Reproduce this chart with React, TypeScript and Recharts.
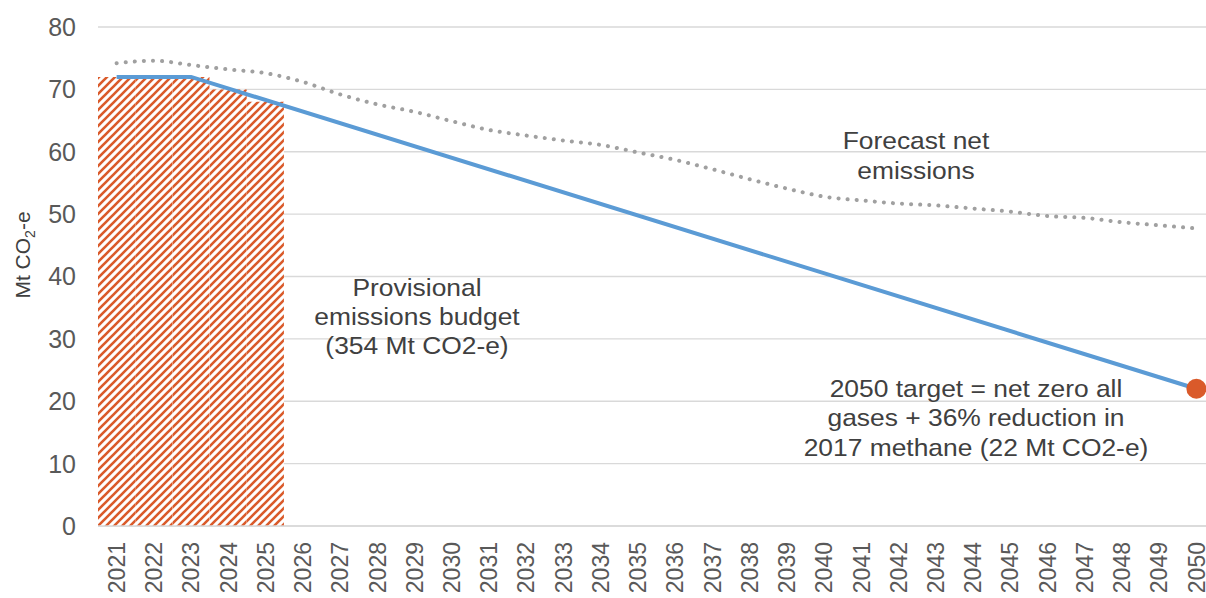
import { Bar, ComposedChart, Line, XAxis, YAxis, CartesianGrid } from "recharts"

// years on the category axis
const years = [
  "2021", "2022", "2023", "2024", "2025", "2026", "2027", "2028", "2029", "2030",
  "2031", "2032", "2033", "2034", "2035", "2036", "2037", "2038", "2039", "2040",
  "2041", "2042", "2043", "2044", "2045", "2046", "2047", "2048", "2049", "2050",
]

// provisional budget, 2021-2025 (sums to 354)
const budget = [72, 72, 72, 70, 68]

// target path: flat to 2023, straight down to the 2050 goal
const targetYears = ["2021", "2022", "2023", "2050"]
const targetValues = [72, 72, 72, 22]

const goal2050 = 22

const forecast = [
  74.2, 74.6, 73.9, 73.2, 72.6, 71.2, 69.2, 67.6, 66.4, 64.9,
  63.5, 62.6, 61.8, 61.1, 59.9, 58.7, 57.2, 55.6, 54.1, 52.8,
  52.2, 51.7, 51.4, 50.9, 50.4, 49.7, 49.4, 48.7, 48.2, 47.7,
]

const yTicks = [0, 10, 20, 30, 40, 50, 60, 70, 80]

const rows = years.map((year, i) => {
  const t = targetYears.indexOf(year)
  return {
    year,
    budget: i < budget.length ? budget[i] : null,
    target: t >= 0 ? targetValues[t] : null,
    forecast: forecast[i],
    goal: year === "2050" ? goal2050 : null,
  }
})

const FONT = "'Liberation Sans', Arial, sans-serif"
const ORANGE = "#DA5A2A"

const YearTick = ({ x, y, payload }: any) => (
  <text
    x={x}
    y={y}
    dy="0.36em"
    transform={`rotate(-90, ${x}, ${y})`}
    textAnchor="end"
    fontSize={23}
    fontFamily={FONT}
    fill="#595959"
  >
    {payload.value}
  </text>
)

// centred multi-line note, slightly widened like the chart's text boxes
const Note = ({ x, y, lines, gap }: { x: number; y: number; lines: string[]; gap: number }) => (
  <g transform={`translate(${x},0) scale(1.1,1)`}>
    <text x={0} y={y} textAnchor="middle" fontSize={24} fontFamily={FONT} fill="#404040">
      {lines.map((l, i) => (
        <tspan key={i} x={0} y={y + i * gap}>
          {l}
        </tspan>
      ))}
    </text>
  </g>
)

export default function App() {
  return (
    <div
      style={{
        position: "absolute",
        left: 0,
        top: 0,
        width: 1206,
        height: 598,
        overflow: "hidden",
        background: "#fff",
      }}
    >
      <ComposedChart
        width={1220}
        height={606}
        data={rows}
        margin={{ top: 27, right: 5, bottom: 0, left: 0 }}
        barCategoryGap={0}
        barGap={0}
      >
        <defs>
          <pattern id="budgetHatch" patternUnits="userSpaceOnUse" width={8} height={8}>
            <rect width={8} height={8} fill="#fff" />
            <path d="M-2,2 L2,-2 M0,8 L8,0 M6,10 L10,6" stroke={ORANGE} strokeWidth={2.6} />
          </pattern>
        </defs>
        <CartesianGrid vertical={false} stroke="#D9D9D9" strokeWidth={1.3} />
        <XAxis
          dataKey="year"
          interval={0}
          height={80}
          tickLine={false}
          tickSize={0}
          tickMargin={16}
          axisLine={{ stroke: "#D9D9D9", strokeWidth: 1.3 }}
          tick={<YearTick />}
        />
        <YAxis
          width={98}
          domain={[0, 80]}
          ticks={yTicks}
          axisLine={false}
          tickLine={false}
          tickSize={0}
          tickMargin={22}
          tick={{ fill: "#595959", fontSize: 25, fontFamily: FONT }}
        />
        <Bar dataKey="budget" fill="url(#budgetHatch)" isAnimationActive={false} />
        <Line
          dataKey="target"
          stroke="#5B9BD5"
          strokeWidth={4}
          dot={false}
          connectNulls
          type="linear"
          isAnimationActive={false}
        />
        <Line
          dataKey="forecast"
          stroke="#A0A0A0"
          strokeWidth={4}
          strokeDasharray="0.1 9"
          strokeLinecap="round"
          dot={false}
          type="monotone"
          isAnimationActive={false}
        />
        <Line
          dataKey="goal"
          stroke="none"
          dot={{ r: 10, fill: ORANGE, stroke: "none" }}
          isAnimationActive={false}
        />
      </ComposedChart>
      <svg
        width={1206}
        height={598}
        style={{ position: "absolute", left: 0, top: 0, pointerEvents: "none" }}
      >
        <text
          x={22}
          y={255}
          transform="rotate(-90, 22, 255)"
          textAnchor="middle"
          dy="0.36em"
          fontSize={21}
          fontFamily={FONT}
          fill="#404040"
        >
          Mt CO<tspan dy={5} fontSize={14}>2</tspan>
          <tspan dy={-5}>-e</tspan>
        </text>
        <Note x={417} y={296} gap={29} lines={["Provisional", "emissions budget", "(354 Mt CO2-e)"]} />
        <Note x={916} y={149} gap={30} lines={["Forecast net", "emissions"]} />
        <Note
          x={976}
          y={397}
          gap={29.5}
          lines={["2050 target = net zero all", "gases + 36% reduction in", "2017 methane (22 Mt CO2-e)"]}
        />
      </svg>
    </div>
  )
}
